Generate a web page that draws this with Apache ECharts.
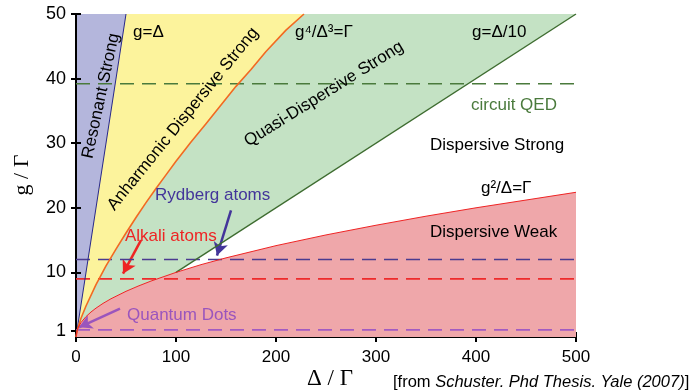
<!DOCTYPE html>
<html><head><meta charset="utf-8">
<script src="https://cdn.jsdelivr.net/npm/echarts@6/dist/echarts.min.js"></script>
<style>html,body{margin:0;padding:0;background:#fff}#c{width:689px;height:392px}</style>
</head><body><div id="c"></div>
<script>
// Boundary curves (Δ/Γ, g/Γ)
const lineGeqD = [[0,0],[50,50]];                       // g = Δ
const orangeCurve = [[0,0],[1,0.86],[2,1.45],[5,2.9],[10,4.8],[20,8.1],[30,11.0],[40,13.6],[50,16.1],[60,18.5],[70,20.8],[80,23.0],[90,25.1],[100,27.2],[115,30.2],[130,33.0],[145,35.9],[160,38.8],[175,41.4],[190,44.2],[210,47.5],[228,50]]; // g^4/Δ^3 = Γ
const greenLine = [[100,10],[500,50]];                  // g = Δ/10
const redCurve = [[0,0],[1,1],[2,1.41],[5,2.24],[10,3.16],[15,3.87],[20,4.47],[27,5.2],[35,5.92],[50,7.07],[62,7.87],[75,8.66],[100,10],[125,11.2],[150,12.25],[200,14.14],[250,15.8],[300,17.3],[350,18.7],[400,20],[450,21.2],[500,22.4]]; // g^2/Δ = Γ
const lowerGreen = [[0,0],[1,1],[2,1.41],[5,2.24],[10,3.16],[15,3.87],[20,4.47],[27,5.2],[35,5.92],[50,7.07],[62,7.87],[75,8.66],[100,10],[500,50]];
// experimental levels
const levelCircuitQED = 39.2;
const levelRydberg = 12;
const levelAlkali = 9;
const levelQDots = 1.1;
const xTicks = [0,100,200,300,400,500];
const yTicks = [1,10,20,30,40,50];
// arrows [from, to]
const arrowRydberg = [[155,19.6],[141,12.6]];
const arrowAlkali = [[65,15.0],[47,9.8]];
const arrowQD = [[44,4.4],[3,1.5]];

const XMAX = 500, YMAX = 50;
const chart = echarts.init(document.getElementById('c'), null, {renderer:'canvas'});

function area(data, color, z){
  return {type:'line', data, showSymbol:false, silent:true, z,
    lineStyle:{width:0, opacity:0}, areaStyle:{color, opacity:1, origin:'start'}, animation:false};
}
function edge(data, color, width, z){
  return {type:'line', data, showSymbol:false, silent:true, z, lineStyle:{color, width, join:'round'}, animation:false};
}
function level(v, color){
  return {type:'line', data:[[0,v],[XMAX,v]], showSymbol:false, silent:true, z:5,
    lineStyle:{color, width:1.6, type:[14,8]}, animation:false};
}
function arrow(seg, color){
  return {type:'line', data:[], silent:true, z:8,
    markLine:{silent:true, symbol:['none','arrow'], symbolSize:[11,13], animation:false,
      label:{show:false}, lineStyle:{color, width:2.5, type:'solid'},
      data:[[{coord:seg[0]},{coord:seg[1]}]]}};
}

const sans = 'Liberation Sans, Arial, sans-serif';
const axisCommon = {min:0, axisLine:{lineStyle:{color:'#000', width:2}}, splitLine:{show:false},
  axisTick:{inside:true, length:5, lineStyle:{color:'#000', width:2}}};

function T(text, x, y, opts){
  opts = opts || {};
  return {type:'text', x, y, rotation:(opts.rot||0)*Math.PI/180, z:100,
    style:{text, fill:opts.color||'#000', fontSize:opts.size||17, fontFamily:opts.font||sans,
      align:opts.align||'left', verticalAlign:'middle', fontStyle:opts.style||'normal', rich:opts.rich}};
}

chart.setOption({
  animation:false,
  grid:{left:76, right:113, top:14, bottom:55, show:true, backgroundColor:'#b4b6dc', borderWidth:0},
  xAxis:[
    Object.assign({}, axisCommon, {type:'value', max:XMAX, interval:100, position:'bottom',
      axisLabel:{color:'#000', fontSize:17, fontFamily:sans, margin:12}}),
    Object.assign({}, axisCommon, {type:'value', max:XMAX, interval:100, position:'top', axisLabel:{show:false}})
  ],
  yAxis:[
    Object.assign({}, axisCommon, {type:'value', max:YMAX, interval:10, position:'left',
      axisTick:{inside:true, length:5, lineStyle:{color:'#000', width:2}, customValues:yTicks},
      axisLabel:{color:'#000', fontSize:18, fontFamily:sans, margin:10, customValues:yTicks}}),
    Object.assign({}, axisCommon, {type:'value', max:YMAX, interval:10, position:'right',
      axisTick:{inside:true, length:5, lineStyle:{color:'#000', width:2}, customValues:yTicks}, axisLabel:{show:false}})
  ],
  series:[
    area(lineGeqD.concat([[XMAX,YMAX]]), '#fcf39c', 1),
    area(orangeCurve.concat([[XMAX,YMAX]]), '#c4e2c4', 2),
    area(lowerGreen, '#ffffff', 3),
    area(redCurve, '#efa7aa', 4),
    level(levelCircuitQED, '#4a7a3c'),
    level(levelRydberg, '#4a3b90'),
    level(levelAlkali, '#ee2b2b'),
    level(levelQDots, '#a25bc2'),
    edge(lineGeqD, '#28288a', 1, 6),
    edge(orangeCurve, '#f26a22', 1.6, 6),
    edge(greenLine, '#3e6c30', 1.4, 6),
    edge(redCurve, '#ee2424', 1, 6),
    arrow(arrowRydberg, '#43359a'),
    arrow(arrowAlkali, '#ee2424'),
    arrow(arrowQD, '#9a55bd')
  ],
  graphic:[
    T('Resonant Strong', 101, 96, {rot:78, align:'center'}),
    T('Anharmonic Dispersive Strong', 183, 119, {rot:51, align:'center'}),
    T('Quasi-Dispersive Strong', 324, 94, {rot:32, align:'center'}),
    T('g=Δ', 133, 32),
    T('g⁴/Δ³=Γ', 295, 32),
    T('g=Δ/10', 472, 32),
    T('circuit QED', 471, 105, {color:'#4a7a3c'}),
    T('Dispersive Strong', 430, 145),
    T('g²/Δ=Γ', 481, 188),
    T('Dispersive Weak', 430, 232),
    T('Rydberg atoms', 155, 195, {color:'#43359a'}),
    T('Alkali atoms', 125, 236, {color:'#ee2424'}),
    T('Quantum Dots', 127, 315, {color:'#9a55bd'}),
    T('g / Γ', 22, 175, {rot:90, align:'center', size:22, font:'Liberation Serif, serif'}),
    T('Δ / Γ', 330, 379, {align:'center', size:23, font:'Liberation Serif, serif'}),
    {type:'text', x:393, y:382, z:100, style:{text:'[from {i|Schuster. Phd Thesis. Yale (2007)}]', fill:'#000',
      fontSize:16.5, fontFamily:sans, verticalAlign:'middle',
      rich:{i:{fontStyle:'italic', fontSize:16.5, fontFamily:sans}}}}
  ]
});
</script></body></html>
